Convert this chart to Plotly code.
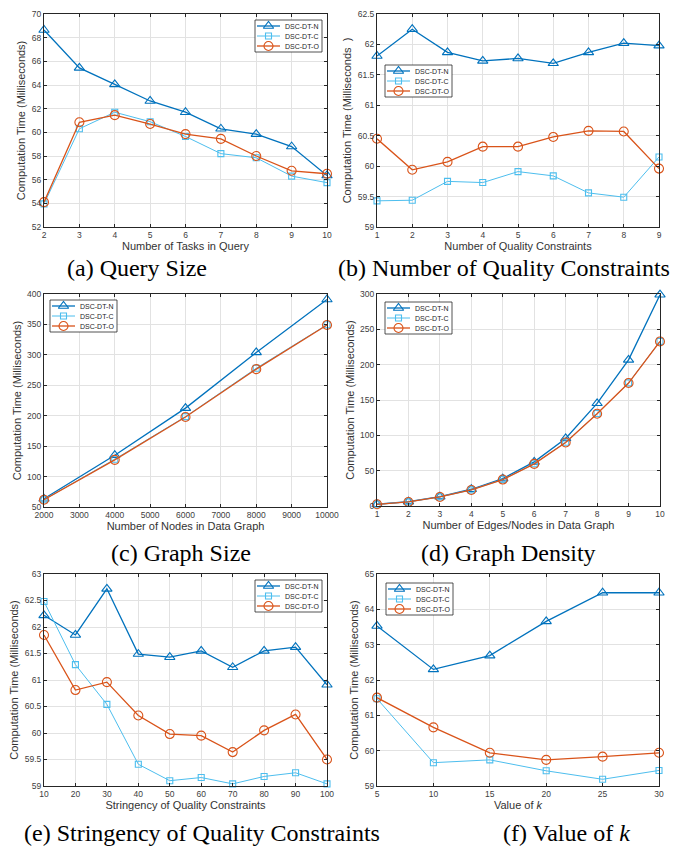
import plotly.graph_objects as go

SERIES = ["DSC-DT-N", "DSC-DT-C", "DSC-DT-O"]

# (a) Query Size
a_x = [2, 3, 4, 5, 6, 7, 8, 9, 10]
a_n = [68.65, 65.45, 64.05, 62.65, 61.7, 60.3, 59.85, 58.8, 56.35]
a_c = [53.95, 60.3, 61.7, 60.9, 59.65, 58.2, 57.85, 56.3, 55.75]
a_o = [54.1, 60.85, 61.45, 60.7, 59.85, 59.45, 58.0, 56.75, 56.5]

# (b) Number of Quality Constraints
b_x = [1, 2, 3, 4, 5, 6, 7, 8, 9]
b_n = [61.81, 62.25, 61.87, 61.73, 61.77, 61.69, 61.87, 62.02, 61.98]
b_c = [59.43, 59.44, 59.75, 59.73, 59.91, 59.84, 59.56, 59.49, 60.15]
b_o = [60.45, 59.94, 60.07, 60.32, 60.32, 60.48, 60.58, 60.57, 59.96]

# (c) Graph Size
c_x = [2000, 4000, 6000, 8000, 10000]
c_n = [63.5, 135, 212.5, 304, 391]
c_c = [62, 128.5, 198.5, 278, 349.5]
c_o = [62, 127.5, 197.8, 276.5, 349]

# (d) Graph Density
d_x = [1, 2, 3, 4, 5, 6, 7, 8, 9, 10]
d_n = [2.5, 6.2, 13.3, 23.7, 38.8, 62.5, 95.6, 145.3, 206.8, 299]
d_c = [2.5, 5.8, 12.8, 22.8, 37.4, 59.8, 90.2, 130.8, 174.2, 233]
d_o = [2.4, 5.7, 12.8, 22.7, 37.4, 59.6, 89.9, 130.6, 174.0, 232.8]

# (e) Stringency of Quality Constraints
e_x = [10, 20, 30, 40, 50, 60, 70, 80, 90, 100]
e_n = [62.22, 61.85, 62.72, 61.49, 61.43, 61.55, 61.24, 61.55, 61.62, 60.91]
e_c = [62.48, 61.29, 60.54, 59.41, 59.10, 59.16, 59.04, 59.18, 59.25, 59.04]
e_o = [61.85, 60.81, 60.96, 60.33, 59.98, 59.95, 59.64, 60.05, 60.35, 59.50]

# (f) Value of k
f_x = [5, 10, 15, 20, 25, 30]
f_n = [63.53, 62.30, 62.69, 63.66, 64.47, 64.47]
f_c = [61.47, 59.66, 59.74, 59.43, 59.19, 59.44]
f_o = [61.50, 60.66, 59.94, 59.74, 59.83, 59.94]

x_titles = ["Number of Tasks in Query", "Number of Quality Constraints",
            "Number of Nodes in Data Graph", "Number of Edges/Nodes in Data Graph",
            "Stringency of Quality Constraints", "Value of <i>k</i>"]
y_titles = ["Computation Time (Milliseconds)",
            "Computation Time (Milliseconds\u00a0\u00a0)",
            "Computation Time (Milliseconds)", "Computation Time (Milliseconds)",
            "Computation Time (Milliseconds)", "Computation Time (Milliseconds)"]
captions = ["(a) Query Size", "(b) Number of Quality Constraints", "(c) Graph Size",
            "(d) Graph Density", "(e) Stringency of Quality Constraints",
            "(f) Value of <i>k</i>"]

panels = [
    (a_x, [a_n, a_c, a_o]),
    (b_x, [b_n, b_c, b_o]),
    (c_x, [c_n, c_c, c_o]),
    (d_x, [d_n, d_c, d_o]),
    (e_x, [e_n, e_c, e_o]),
    (f_x, [f_n, f_c, f_o]),
]

# ---- styling / layout (screen pixels of the 678x846 page) ----
PAGE_W, PAGE_H = 678, 846
OFF = 8                       # default body margin of the html page
FW, FH = PAGE_W - OFF, PAGE_H - OFF


def px_x(p):
    return (p - OFF) / FW


def px_y(p):
    return 1 - (p - OFF) / FH


COLORS = ["#0072BD", "#4DBEEE", "#D95319"]
SYMBOLS = ["triangle-up-open", "square-open", "circle-open"]
MSIZE = [9, 6, 9]
LWIDTH = [1.3, 1.0, 1.3]

boxes = [(44, 327, 14, 227), (377, 659, 14, 227), (44, 327, 294, 507),
         (377, 660, 294, 506), (44, 327, 574, 786), (377, 659, 574, 786)]
xranges = [(2, 10, 1), (1, 9, 1), (2000, 10000, 1000), (1, 10, 1), (10, 100, 10), (5, 30, 5)]
yranges = [(52, 70, 2), (59, 62.5, 0.5), (50, 400, 50), (0, 300, 50), (59, 63, 0.5), (59, 65, 1)]
legend_boxes = [(255, 20), (385, 65), (50, 300), (385, 302), (255, 580), (386, 583)]
caption_pos = [(137, 268), (504, 268), (181, 553), (508, 553), (202, 833), (566, 833)]

SANS = "Liberation Sans, Arial, sans-serif"
SERIF = "Liberation Serif, Times New Roman, serif"
AXC = "#262626"

fig = go.Figure()
layout = dict(template="none", width=FW, height=FH,
              margin=dict(l=0, r=0, t=0, b=0, autoexpand=False),
              paper_bgcolor="white", plot_bgcolor="rgba(0,0,0,0)", showlegend=False,
              font=dict(family=SANS, color=AXC))
annotations = []

for i, (xs, ys) in enumerate(panels):
    k = i + 1
    xa = "x" if k == 1 else f"x{k}"
    ya = "y" if k == 1 else f"y{k}"
    for s in range(3):
        fig.add_trace(go.Scatter(
            x=xs, y=ys[s], name=SERIES[s], mode="lines+markers",
            xaxis=xa, yaxis=ya, cliponaxis=False,
            line=dict(color=COLORS[s], width=LWIDTH[s]),
            marker=dict(symbol=SYMBOLS[s], size=MSIZE[s], color=COLORS[s],
                        line=dict(width=1.1, color=COLORS[s])),
            showlegend=False))
    l, r, t, b = boxes[i]
    x0, x1, xd = xranges[i]
    y0, y1, yd = yranges[i]
    common = dict(showline=True, linecolor=AXC, linewidth=1, mirror="ticks",
                  ticks="inside", ticklen=3, tickwidth=0.8, tickcolor=AXC,
                  showgrid=True, gridcolor="#e2e2e2", gridwidth=1, zeroline=False,
                  automargin=False,
                  tickfont=dict(family=SANS, size=8.5, color="#404040"))
    layout["xaxis" if k == 1 else f"xaxis{k}"] = dict(
        common, domain=[px_x(l), px_x(r)], range=[x0, x1], dtick=xd, tick0=x0,
        anchor=ya, tickformat="d",
        title=dict(text=x_titles[i], standoff=3,
                   font=dict(family=SANS, size=11, color="#333333")))
    layout["yaxis" if k == 1 else f"yaxis{k}"] = dict(
        common, domain=[px_y(b), px_y(t)], range=[y0, y1], dtick=yd, tick0=y0,
        anchor=xa,
        title=dict(text=y_titles[i], standoff=3,
                   font=dict(family=SANS, size=11, color="#333333")))
    cx, cy = caption_pos[i]
    annotations.append(dict(text=captions[i], xref="paper", yref="paper",
                            x=px_x(cx), y=px_y(cy), xanchor="center", yanchor="middle",
                            showarrow=False,
                            font=dict(family=SERIF, size=24, color="black")))

# overlay axis in screen-pixel coordinates for the legend boxes
layout["xaxis7"] = dict(domain=[0, 1], range=[OFF, PAGE_W], visible=False,
                        fixedrange=True, anchor="y7", automargin=False)
layout["yaxis7"] = dict(domain=[0, 1], range=[PAGE_H, OFF], visible=False,
                        fixedrange=True, anchor="x7", automargin=False)
LW, LH = 67, 32
for (L, T) in legend_boxes:
    fig.add_trace(go.Scatter(
        x=[L, L + LW, L + LW, L, L], y=[T, T, T + LH, T + LH, T],
        mode="lines", fill="toself", fillcolor="white",
        line=dict(color="#262626", width=0.8), xaxis="x7", yaxis="y7",
        hoverinfo="skip", showlegend=False))
    for s in range(3):
        yy = T + 6 + 10 * s
        fig.add_trace(go.Scatter(
            x=[L + 2, L + 25], y=[yy, yy], mode="lines",
            line=dict(color=COLORS[s], width=LWIDTH[s]),
            xaxis="x7", yaxis="y7", hoverinfo="skip", showlegend=False))
        fig.add_trace(go.Scatter(
            x=[L + 13.5], y=[yy], mode="markers",
            marker=dict(symbol=SYMBOLS[s], size=MSIZE[s], color=COLORS[s],
                        line=dict(width=1.1, color=COLORS[s])),
            xaxis="x7", yaxis="y7", hoverinfo="skip", showlegend=False,
            cliponaxis=False))
        annotations.append(dict(text=SERIES[s], xref="x7", yref="y7", x=L + 28, y=yy,
                                xanchor="left", yanchor="middle", showarrow=False,
                                font=dict(family=SANS, size=7, color="#262626")))

layout["annotations"] = annotations
fig.update_layout(**layout)
fig.write_html("out.html")
